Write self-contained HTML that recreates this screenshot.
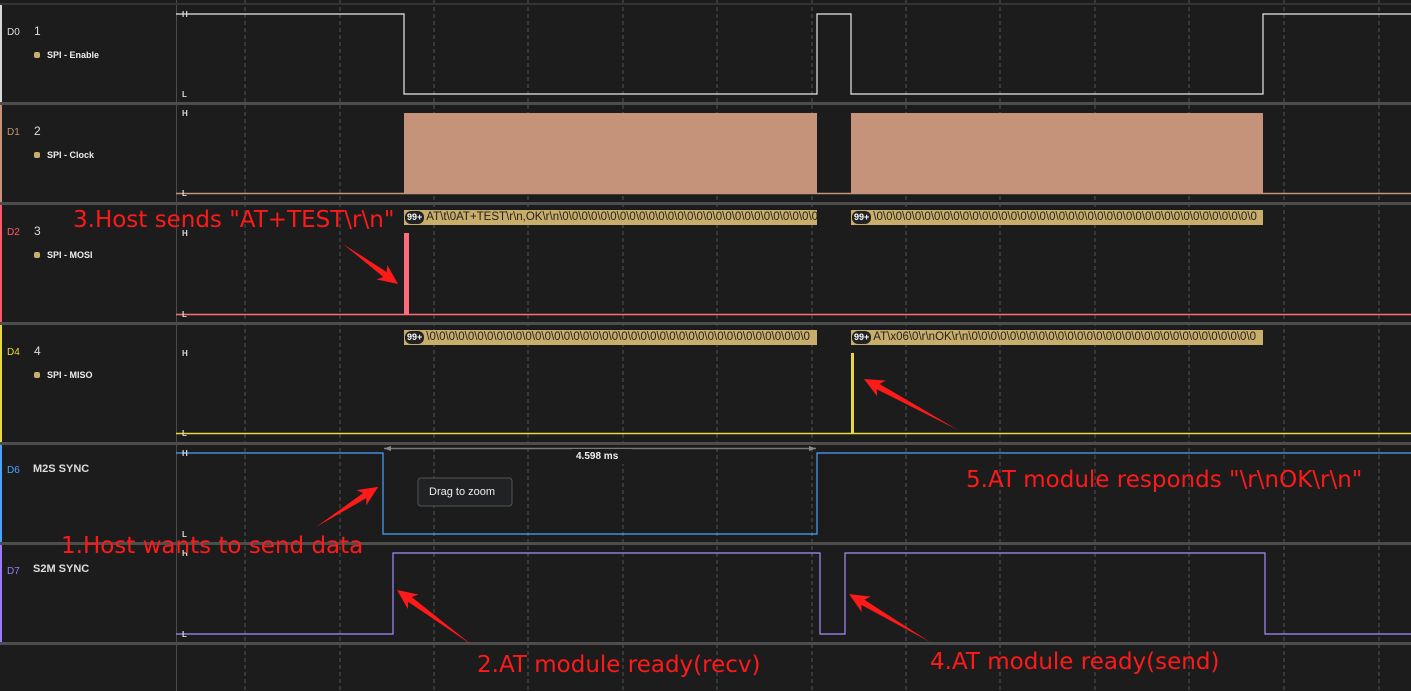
<!DOCTYPE html>
<html><head><meta charset="utf-8"><style>
html,body{margin:0;padding:0;background:#1c1c1c;}
body{width:1411px;height:691px;position:relative;overflow:hidden;font-family:"Liberation Sans",sans-serif;}
.t{position:absolute;white-space:nowrap;}
.dn{font-size:10px;}
.num{font-size:12px;color:#ddd;}
.nm{font-size:9px;color:#eee;font-weight:bold;}
.dot{position:absolute;width:6px;height:6px;border-radius:2px;background:#c9ad6a;}
.bar{position:absolute;height:15px;background:#c9ad6a;overflow:hidden;white-space:nowrap;font-size:11.5px;line-height:15px;color:#222;}
.bar b{display:inline-block;background:#222;color:#fff;font-size:9px;border-radius:6px;padding:0 2px;line-height:13px;margin:1px 2px 0 1px;vertical-align:top;}
.red{color:#ff1a1a;font-size:23px;font-family:"DejaVu Sans","Liberation Sans",sans-serif;}
</style></head><body>
<svg width="1411" height="691" style="position:absolute;left:0;top:0">
<g stroke="#555" stroke-dasharray="4,3" stroke-width="1">
<line x1="245" y1="0" x2="245" y2="691"/><line x1="340" y1="0" x2="340" y2="691"/><line x1="434" y1="0" x2="434" y2="691"/><line x1="528" y1="0" x2="528" y2="691"/><line x1="623" y1="0" x2="623" y2="691"/><line x1="717" y1="0" x2="717" y2="691"/><line x1="812" y1="0" x2="812" y2="691"/><line x1="906" y1="0" x2="906" y2="691"/><line x1="1000" y1="0" x2="1000" y2="691"/><line x1="1095" y1="0" x2="1095" y2="691"/><line x1="1189" y1="0" x2="1189" y2="691"/><line x1="1284" y1="0" x2="1284" y2="691"/><line x1="1379" y1="0" x2="1379" y2="691"/>
</g>
<rect x="0" y="0" width="176" height="691" fill="#1c1c1c"/>
<line x1="176.5" y1="0" x2="176.5" y2="691" stroke="#4a4a4a"/>
<g stroke="#4d4d4d" stroke-width="3">
<line x1="0" y1="4" x2="1411" y2="4" stroke-width="2" stroke="#333"/>
<line x1="0" y1="103.5" x2="1411" y2="103.5"/><line x1="0" y1="203.5" x2="1411" y2="203.5"/><line x1="0" y1="323.5" x2="1411" y2="323.5"/><line x1="0" y1="443.5" x2="1411" y2="443.5"/><line x1="0" y1="543.5" x2="1411" y2="543.5"/><line x1="0" y1="643.5" x2="1411" y2="643.5"/>
</g>
<rect x="0" y="5" width="2" height="97" fill="#d8d8d8"/>
<rect x="0" y="105" width="2" height="97" fill="#c4937a"/>
<rect x="0" y="205" width="2" height="117" fill="#ff5a6a"/>
<rect x="0" y="325" width="2" height="117" fill="#e8d840"/>
<rect x="0" y="445" width="2" height="97" fill="#4aa3ff"/>
<rect x="0" y="545" width="2" height="97" fill="#9b7bff"/>
<polyline fill="none" stroke="#e8e8e8" stroke-width="1.2" points="176,14 404,14 404,94 817,94 817,14 851,14 851,94 1263,94 1263,14 1411,14"/>
<line x1="176" y1="193.5" x2="1411" y2="193.5" stroke="#c4937a" stroke-width="1.5"/>
<rect x="404" y="113" width="413" height="81" fill="#c4937a"/>
<rect x="851" y="113" width="412" height="81" fill="#c4937a"/>
<line x1="176" y1="314.5" x2="1411" y2="314.5" stroke="#ff6b7a" stroke-width="1.5"/>
<rect x="404" y="233" width="5" height="82" fill="#ff6b7a"/>
<line x1="176" y1="433.5" x2="1411" y2="433.5" stroke="#e8d840" stroke-width="1.5"/>
<rect x="851" y="353" width="3" height="81" fill="#e8d840"/>
<polyline fill="none" stroke="#4aa3ff" stroke-width="1.2" points="176,453 383,453 383,534 817,534 817,453 1411,453"/>
<polyline fill="none" stroke="#a88bff" stroke-width="1.2" points="176,634 393,634 393,553 820,553 820,634 845,634 845,553 1265,553 1265,634 1411,634"/>
<line x1="384" y1="448.5" x2="816" y2="448.5" stroke="#777" stroke-width="1.5"/>
<polygon points="384,448.5 391,446 391,451" fill="#888"/><polygon points="816,448.5 809,446 809,451" fill="#888"/>
<rect x="572" y="449" width="60" height="15" fill="#1c1c1c"/>
<rect x="418" y="478" width="94" height="28" rx="3" fill="#202224" stroke="#555"/>
<g fill="#ddd" font-family="Liberation Sans" font-size="8" font-weight="bold">
<text x="182" y="17">H</text><text x="182" y="97">L</text>
<text x="182" y="116">H</text><text x="182" y="196">L</text>
<text x="182" y="236">H</text><text x="182" y="317">L</text>
<text x="182" y="356">H</text><text x="182" y="436">L</text>
<text x="182" y="456">H</text><text x="182" y="537">L</text>
<text x="182" y="556">H</text><text x="182" y="637">L</text>
</g>
<g fill="#ff1a1a">
<polygon transform="translate(343,244) rotate(36)" points="0,0 52,-3 48,-9 68,0 48,9 52,3"/>
<polygon transform="translate(958,430) rotate(208.5)" points="0,0 91,-3 87,-9 107,0 87,9 91,3"/>
<polygon transform="translate(316,527) rotate(-32.8)" points="0,0 58,-3 54,-9 74,0 54,9 58,3"/>
<polygon transform="translate(472,645) rotate(216.3)" points="0,0 77,-3 73,-9 93,0 73,9 77,3"/>
<polygon transform="translate(930,642) rotate(210.6)" points="0,0 78,-3 74,-9 94,0 74,9 78,3"/>
</g>
</svg>
<div class="t dn" style="left:7px;top:27px;color:#ddd">D0</div><div class="t num" style="left:34px;top:24px">1</div><div class="dot" style="left:34px;top:52px"></div><div class="t nm" style="left:47px;top:50px">SPI - Enable</div>
<div class="t dn" style="left:7px;top:127px;color:#c4937a">D1</div><div class="t num" style="left:34px;top:124px">2</div><div class="dot" style="left:34px;top:152px"></div><div class="t nm" style="left:47px;top:150px">SPI - Clock</div>
<div class="t dn" style="left:7px;top:227px;color:#ff5a6a">D2</div><div class="t num" style="left:34px;top:224px">3</div><div class="dot" style="left:34px;top:252px"></div><div class="t nm" style="left:47px;top:250px">SPI - MOSI</div>
<div class="t dn" style="left:7px;top:347px;color:#e8d840">D4</div><div class="t num" style="left:34px;top:344px">4</div><div class="dot" style="left:34px;top:372px"></div><div class="t nm" style="left:47px;top:370px">SPI - MISO</div>
<div class="t dn" style="left:7px;top:465px;color:#4aa3ff">D6</div><div class="t" style="left:33px;top:463px;font-size:11px;font-weight:bold;color:#ddd">M2S SYNC</div>
<div class="t dn" style="left:7px;top:566px;color:#9b7bff">D7</div><div class="t" style="left:33px;top:563px;font-size:11px;font-weight:bold;color:#ddd">S2M SYNC</div>
<div class="bar" style="left:404px;top:210px;width:413px"><b>99+</b>AT\t\0AT+TEST\r\n,OK\r\n\0\0\0\0\0\0\0\0\0\0\0\0\0\0\0\0\0\0\0\0\0\0\0\0\0\0\0\0</div>
<div class="bar" style="left:851px;top:210px;width:412px"><b>99+</b>\0\0\0\0\0\0\0\0\0\0\0\0\0\0\0\0\0\0\0\0\0\0\0\0\0\0\0\0\0\0\0\0\0\0\0\0\0\0\0\0</div>
<div class="bar" style="left:404px;top:330px;width:413px"><b>99+</b>\0\0\0\0\0\0\0\0\0\0\0\0\0\0\0\0\0\0\0\0\0\0\0\0\0\0\0\0\0\0\0\0\0\0\0\0\0\0\0\0</div>
<div class="bar" style="left:851px;top:330px;width:412px"><b>99+</b>AT\x06\0\r\nOK\r\n\0\0\0\0\0\0\0\0\0\0\0\0\0\0\0\0\0\0\0\0\0\0\0\0\0\0\0\0\0\0</div>
<div class="t" style="left:576px;top:451px;font-size:10px;font-weight:bold;color:#eee">4.598 ms</div>
<div class="t" style="left:429px;top:486px;font-size:11px;color:#eee">Drag to zoom</div>
<div class="t red" style="left:73px;top:207px">3.Host sends "AT+TEST\r\n"</div>
<div class="t red" style="left:966px;top:467px">5.AT module responds "\r\nOK\r\n"</div>
<div class="t red" style="left:61px;top:533px">1.Host wants to send data</div>
<div class="t red" style="left:477px;top:652px">2.AT module ready(recv)</div>
<div class="t red" style="left:930px;top:649px">4.AT module ready(send)</div>
</body></html>
